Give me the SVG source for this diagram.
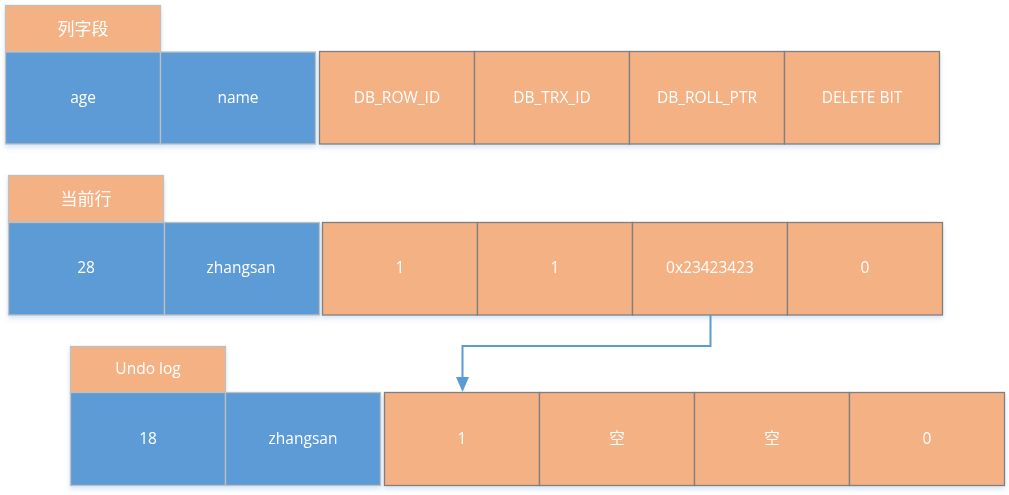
<svg xmlns="http://www.w3.org/2000/svg" width="1009" height="495" viewBox="0 0 1009 495">
<defs>
<filter id="sh" x="-5%" y="-10%" width="110%" height="130%">
<feDropShadow dx="0" dy="3" stdDeviation="2.5" flood-color="#5B9BD5" flood-opacity="0.25"/>
</filter>
</defs>
<style>
.o{fill:#F4B183;stroke:#7F7F7F;stroke-width:1.3}
.oh{fill:#F4B183;stroke:#BFBFBF;stroke-width:1.3}
.b{fill:#5B9BD5;stroke:#BFBFBF;stroke-width:1.3}
text{fill:#FFFFFF;font-family:"Open Sans","Noto Sans CJK SC",sans-serif;font-size:15.5px;text-anchor:middle;dominant-baseline:central}
.h{font-size:17px}
</style>
<rect width="1009" height="495" fill="#FFFFFF"/>

<g id="row1" filter="url(#sh)">
<g id="h1"><rect class="oh" x="5.5" y="5.5" width="155" height="46.5"/><text class="h" x="83" y="28">列字段</text></g>
<g id="r1c1"><rect class="b" x="5.5" y="52" width="155" height="92"/><text x="83" y="97">age</text></g>
<g id="r1c2"><rect class="b" x="160.5" y="52" width="155" height="92"/><text x="238" y="97">name</text></g>
<g id="r1c3"><rect class="o" x="319.5" y="51.5" width="155" height="92.5"/><text x="397" y="97">DB_ROW_ID</text></g>
<g id="r1c4"><rect class="o" x="474.5" y="51.5" width="155" height="92.5"/><text x="552" y="97">DB_TRX_ID</text></g>
<g id="r1c5"><rect class="o" x="629.5" y="51.5" width="155" height="92.5"/><text x="707" y="97">DB_ROLL_PTR</text></g>
<g id="r1c6"><rect class="o" x="784.5" y="51.5" width="155" height="92.5"/><text x="862" y="97">DELETE BIT</text></g>
</g>

<g id="row2" filter="url(#sh)">
<g id="h2"><rect class="oh" x="8.5" y="175.5" width="155" height="46.5"/><text class="h" x="86" y="198">当前行</text></g>
<g id="r2c1"><rect class="b" x="8.5" y="222.5" width="156" height="92.5"/><text x="86" y="267">28</text></g>
<g id="r2c2"><rect class="b" x="164.5" y="222.5" width="155" height="92.5"/><text x="241" y="267">zhangsan</text></g>
<g id="r2c3"><rect class="o" x="322.5" y="222.5" width="155" height="92.5"/><text x="400" y="267">1</text></g>
<g id="r2c4"><rect class="o" x="477.5" y="222.5" width="155" height="92.5"/><text x="555" y="267">1</text></g>
<g id="r2c5"><rect class="o" x="632.5" y="222.5" width="155" height="92.5"/><text x="710" y="267">0x23423423</text></g>
<g id="r2c6"><rect class="o" x="787.5" y="222.5" width="155" height="92.5"/><text x="865" y="267">0</text></g>
</g>

<g id="row3" filter="url(#sh)">
<g id="h3"><rect class="oh" x="70.5" y="346.5" width="155" height="46"/><text x="148" y="368">Undo log</text></g>
<g id="r3c1"><rect class="b" x="70.5" y="392.5" width="155" height="93"/><text x="148" y="438">18</text></g>
<g id="r3c2"><rect class="b" x="225.5" y="392.5" width="155" height="93"/><text x="303" y="438">zhangsan</text></g>
<g id="r3c3"><rect class="o" x="384.5" y="392.5" width="155" height="93"/><text x="462" y="438">1</text></g>
<g id="r3c4"><rect class="o" x="539.5" y="392.5" width="155" height="93"/><text x="617" y="438">空</text></g>
<g id="r3c5"><rect class="o" x="694.5" y="392.5" width="155" height="93"/><text x="772" y="438">空</text></g>
<g id="r3c6"><rect class="o" x="849.5" y="392.5" width="155" height="93"/><text x="927" y="438">0</text></g>
</g>

<g id="connectors">
<path d="M710.5,315 V346 H462.5 V378" fill="none" stroke="#5B9BD5" stroke-width="2"/>
<path d="M456,377 L469,377 L462.5,392 z" fill="#5B9BD5"/>
</g>
</svg>
